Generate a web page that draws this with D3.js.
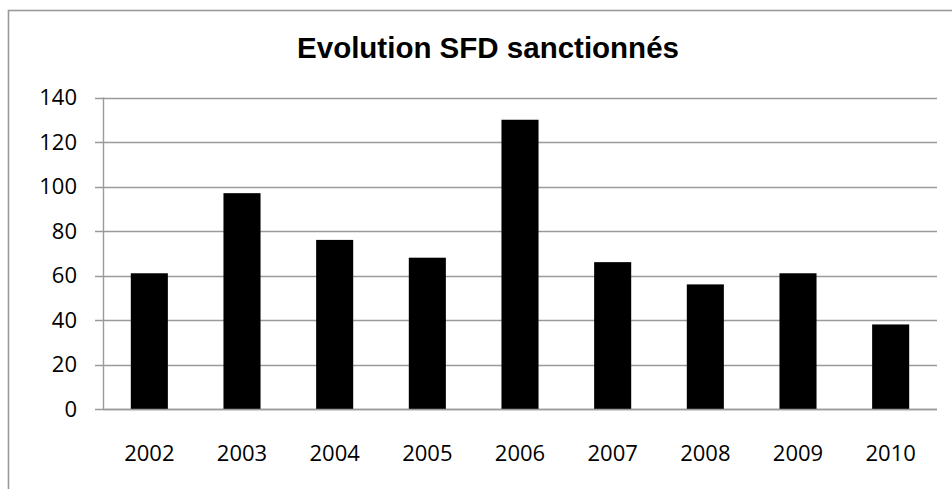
<!DOCTYPE html>
<html>
<head>
<meta charset="utf-8">
<script src="https://cdn.jsdelivr.net/npm/d3@7"></script>
<style>
  html, body { margin: 0; padding: 0; background: #fff; overflow: hidden; }
  svg { display: block; }
</style>
</head>
<body>
<svg id="chart" width="952" height="489"></svg>
<script>
const categories = ["2002", "2003", "2004", "2005", "2006", "2007", "2008", "2009", "2010"];
const values = [61, 97, 76, 68, 130, 66, 56, 61, 38];
const yTicks = [0, 20, 40, 60, 80, 100, 120, 140];
const chartTitle = "Evolution SFD sanctionnés";

(function () {
const svg = d3.select("#chart");
const plotL = 103, plotR = 937, plotT = 97.5, plotB = 409;

// outer frame (extends beyond right/bottom edges like the reference crop)
svg.append("rect")
  .attr("x", 8.5).attr("y", 10.5)
  .attr("width", 980).attr("height", 520)
  .attr("fill", "none").attr("stroke", "#999").attr("stroke-width", 1.6);

svg.append("text")
  .attr("x", 488).attr("y", 58)
  .attr("text-anchor", "middle")
  .attr("font-family", "'Liberation Sans', Arial, sans-serif")
  .attr("font-weight", "bold")
  .attr("font-size", 29.5)
  .attr("fill", "#000")
  .text(chartTitle);

const x = d3.scaleBand().domain(categories).range([plotL, plotR]).paddingInner(0.6).paddingOuter(0.3);
const y = d3.scaleLinear().domain([0, 140]).range([plotB, plotT]);

// gridlines
svg.append("g")
  .selectAll("line")
  .data(yTicks)
  .join("line")
  .attr("x1", plotL - 8).attr("x2", plotR)
  .attr("y1", d => Math.round(y(d)) + 0.5).attr("y2", d => Math.round(y(d)) + 0.5)
  .attr("stroke", "#9a9a9a").attr("stroke-width", 1.4);

// y axis line
svg.append("line")
  .attr("x1", plotL + 0.5).attr("x2", plotL + 0.5)
  .attr("y1", y(140)).attr("y2", y(0))
  .attr("stroke", "#9a9a9a").attr("stroke-width", 1.4);

// y tick labels
svg.append("g")
  .selectAll("text")
  .data(yTicks)
  .join("text")
  .attr("x", 77).attr("y", d => y(d))
  .attr("dy", "0.35em")
  .attr("text-anchor", "end")
  .attr("font-family", "'Open Sans', sans-serif")
  .attr("font-size", 22)
  .attr("fill", "#000")
  .text(d => d);

// bars
svg.append("g")
  .selectAll("rect")
  .data(values)
  .join("rect")
  .attr("x", (d, i) => x(categories[i]))
  .attr("width", x.bandwidth())
  .attr("y", d => y(d))
  .attr("height", d => y(0) - y(d))
  .attr("fill", "#000");

// x axis line
svg.append("line")
  .attr("x1", plotL).attr("x2", plotR)
  .attr("y1", Math.round(y(0)) + 0.5).attr("y2", Math.round(y(0)) + 0.5)
  .attr("stroke", "#9a9a9a").attr("stroke-width", 1.4);

// x labels
svg.append("g")
  .selectAll("text")
  .data(categories)
  .join("text")
  .attr("x", d => x(d) + x.bandwidth() / 2)
  .attr("y", 461)
  .attr("text-anchor", "middle")
  .attr("font-family", "'Open Sans', sans-serif")
  .attr("font-size", 22)
  .attr("fill", "#000")
  .text(d => d);
})();
</script>
</body>
</html>
